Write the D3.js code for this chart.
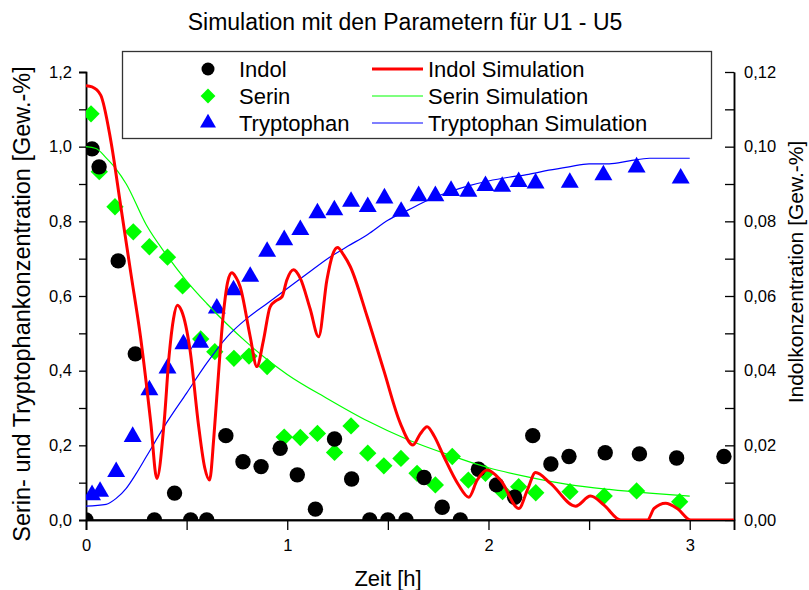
<!DOCTYPE html>
<html>
<head>
<meta charset="utf-8">
<script src="https://cdn.jsdelivr.net/npm/d3@7"></script>
<style>
  body { margin: 0; background: #fff; }
  text { font-family: "Liberation Sans", Arial, sans-serif; fill: #000; }
</style>
</head>
<body>
<script>
// measured points (Zeit [h], value)
var indolT = [0, 0.03, 0.065, 0.16, 0.245, 0.34, 0.44, 0.52, 0.60, 0.695, 0.78, 0.87, 0.965, 1.05, 1.14, 1.235, 1.32,
    1.41, 1.50, 1.59, 1.68, 1.77, 1.86, 1.95, 2.04, 2.13, 2.22, 2.31, 2.40, 2.58, 2.75, 2.935, 3.17];
var indolV = [0, 0.0994, 0.0946, 0.0694, 0.0445, 0, 0.0072, 0, 0, 0.0226, 0.0156, 0.0143, 0.0192, 0.0121, 0.0029, 0.0217, 0.011,
    0, 0, 0, 0.0114, 0.0034, 0, 0.0136, 0.0094, 0.0061, 0.0226, 0.015, 0.017, 0.018, 0.0177, 0.0166, 0.017];

var serinT = [0.025, 0.066, 0.144, 0.235, 0.315, 0.405, 0.48, 0.57, 0.64, 0.735, 0.81, 0.90, 0.985, 1.065, 1.15, 1.235, 1.317,
    1.40, 1.48, 1.565, 1.645, 1.736, 1.82, 1.90, 1.985, 2.07, 2.15, 2.235, 2.405, 2.575, 2.736, 2.95];
var serinV = [1.088, 0.933, 0.839, 0.772, 0.732, 0.704, 0.627, 0.485, 0.451, 0.433, 0.439, 0.411, 0.222, 0.221, 0.232, 0.181, 0.252,
    0.179, 0.145, 0.165, 0.125, 0.094, 0.170, 0.107, 0.125, 0.076, 0.089, 0.073, 0.076, 0.064, 0.078, 0.049];

var trpT = [0.03, 0.07, 0.15, 0.232, 0.315, 0.405, 0.484, 0.567, 0.65, 0.733, 0.816, 0.90, 0.985, 1.065, 1.15, 1.234, 1.317,
    1.40, 1.483, 1.566, 1.653, 1.736, 1.814, 1.90, 1.985, 2.068, 2.15, 2.234, 2.404, 2.571, 2.736, 2.955];
var trpV = [0.067, 0.076, 0.129, 0.223, 0.348, 0.406, 0.471, 0.475, 0.567, 0.616, 0.652, 0.719, 0.750, 0.777, 0.822, 0.830, 0.853,
    0.839, 0.862, 0.826, 0.868, 0.868, 0.882, 0.880, 0.895, 0.893, 0.906, 0.902, 0.904, 0.924, 0.945, 0.915];

// simulations
var indolSimT = [0, 0.03, 0.073, 0.122, 0.172, 0.222, 0.272, 0.322, 0.352, 0.388, 0.413, 0.435, 0.454, 0.475, 0.496, 0.517,
    0.56, 0.59, 0.614, 0.635, 0.65, 0.683, 0.705, 0.725, 0.745, 0.766, 0.816, 0.849, 0.882, 0.915, 0.949, 0.974, 0.998,
    1.031, 1.065, 1.114, 1.156, 1.197, 1.225, 1.25, 1.28, 1.313, 1.397, 1.479, 1.562, 1.625, 1.66, 1.695, 1.73, 1.778,
    1.85, 1.902, 1.944, 1.993, 2.06, 2.151, 2.193, 2.234, 2.308, 2.433, 2.507, 2.574, 2.657, 2.79, 2.823, 2.88, 2.94,
    3.005, 3.22];
var indolSimV = [0.1163, 0.116, 0.1138, 0.102, 0.0843, 0.0664, 0.0486, 0.026, 0.0111, 0.026, 0.044, 0.054, 0.0575, 0.056, 0.052, 0.0455,
    0.025, 0.014, 0.0107, 0.022, 0.033, 0.0554, 0.064, 0.0662, 0.065, 0.0625, 0.0491, 0.0411, 0.0482, 0.0571, 0.0589, 0.0598, 0.0643,
    0.067, 0.0647, 0.0565, 0.0491, 0.0643, 0.071, 0.073, 0.071, 0.0679, 0.0545, 0.0402, 0.0259, 0.0201, 0.023, 0.025, 0.0225, 0.017,
    0.0095, 0.0061, 0.0107, 0.0134, 0.0107, 0.0031, 0.008, 0.0127, 0.0098, 0.0037, 0.0064, 0.004, 0, 0, 0.0031, 0.0045, 0.003,
    0, 0];

var serinSimT = [0, 0.05, 0.1, 0.15, 0.2, 0.3, 0.4, 0.5, 0.6, 0.7, 0.8, 0.9, 1.0, 1.2, 1.4, 1.6, 1.8, 2.0, 2.2, 2.4, 2.6, 2.8, 3.0];
var serinSimV = [1.0, 0.995, 0.97, 0.94, 0.90, 0.79, 0.71, 0.64, 0.58, 0.525, 0.475, 0.43, 0.39, 0.325, 0.265, 0.215, 0.175, 0.14,
    0.115, 0.095, 0.082, 0.072, 0.064];

var trpSimT = [0, 0.1, 0.15, 0.2, 0.25, 0.3, 0.4, 0.5, 0.6, 0.7, 0.8, 0.9, 1.0, 1.1, 1.2, 1.3, 1.4, 1.5, 1.6, 1.7, 1.8, 1.9, 2.0,
    2.1, 2.2, 2.3, 2.4, 2.5, 2.6, 2.7, 2.8, 3.0];
var trpSimV = [0.037, 0.042, 0.058, 0.085, 0.125, 0.17, 0.26, 0.34, 0.42, 0.49, 0.54, 0.58, 0.62, 0.66, 0.70, 0.733, 0.765, 0.803,
    0.83, 0.857, 0.878, 0.895, 0.908, 0.918, 0.926, 0.937, 0.946, 0.954, 0.954, 0.962, 0.969, 0.969];

var xTicks = [0, 1, 2, 3];
var xMinor = [0.5, 1.5, 2.5];
var leftTicks = [0, 0.2, 0.4, 0.6, 0.8, 1.0, 1.2];
var leftMinor = [0.1, 0.3, 0.5, 0.7, 0.9, 1.1];
var rightTicks = [0, 0.02, 0.04, 0.06, 0.08, 0.10, 0.12];
var rightMinor = [0.01, 0.03, 0.05, 0.07, 0.09, 0.11];

var W = 809, H = 590;
var L = 86, R = 734, T = 72, B = 520;

var svg = d3.select('body').append('svg').attr('width', W).attr('height', H);

var x = d3.scaleLinear().domain([0, 3.22]).range([L, R]);
var yL = d3.scaleLinear().domain([0, 1.2]).range([B, T]);
var yR = d3.scaleLinear().domain([0, 0.12]).range([B, T]);

function comma(f) { return function (d) { return d3.format(f)(d).replace('.', ','); }; }

svg.append('defs').append('clipPath').attr('id', 'plot')
    .append('rect').attr('x', L).attr('y', T).attr('width', R - L).attr('height', B - T);

// title
svg.append('text').attr('x', 405).attr('y', 30).attr('text-anchor', 'middle')
    .style('font-size', '23px').text('Simulation mit den Parametern für U1 - U5');

// axes
svg.append('g').attr('transform', 'translate(0,' + B + ')')
    .call(d3.axisBottom(x).tickValues(xTicks).tickSize(10).tickPadding(9).tickFormat(d3.format('d')));
svg.append('g').attr('transform', 'translate(0,' + B + ')')
    .call(d3.axisBottom(x).tickValues(xMinor).tickSize(10).tickFormat(''));
svg.append('g').attr('transform', 'translate(' + L + ',0)')
    .call(d3.axisLeft(yL).tickValues(leftTicks).tickSize(7).tickPadding(7).tickFormat(comma('.1f')));
svg.append('g').attr('transform', 'translate(' + L + ',0)')
    .call(d3.axisLeft(yL).tickValues(leftMinor).tickSize(7).tickFormat(''));
svg.append('g').attr('transform', 'translate(' + R + ',0)')
    .call(d3.axisRight(yR).tickValues(rightTicks).tickSizeInner(-9).tickSizeOuter(0).tickPadding(10).tickFormat(comma('.2f')));
svg.append('g').attr('transform', 'translate(' + R + ',0)')
    .call(d3.axisRight(yR).tickValues(rightMinor).tickSizeInner(-9).tickSizeOuter(0).tickFormat(''));

svg.selectAll('.domain').attr('stroke', '#000').attr('stroke-width', 1.5);
svg.selectAll('.tick line').attr('stroke', '#000').attr('stroke-width', 1.3);
svg.selectAll('.tick text').style('font-size', '16.5px').style('font-family', '"Liberation Sans", Arial, sans-serif');
// bottom axis line full width
svg.append('line').attr('x1', L).attr('x2', R).attr('y1', B).attr('y2', B).attr('stroke', '#000').attr('stroke-width', 1.5);

// axis titles
svg.append('text').attr('x', 388).attr('y', 586).attr('text-anchor', 'middle')
    .style('font-size', '22px').text('Zeit [h]');
svg.append('text').attr('transform', 'translate(30,' + 304 + ') rotate(-90)').attr('text-anchor', 'middle')
    .style('font-size', '23.5px').text('Serin- und Tryptophankonzentration [Gew.-%]');
svg.append('text').attr('transform', 'translate(803,' + 272 + ') rotate(-90)').attr('text-anchor', 'middle')
    .style('font-size', '21px').text('Indolkonzentration [Gew.-%]');

var plot = svg.append('g').attr('clip-path', 'url(#plot)');

function pairs(ts, vs) { return ts.map(function (t, i) { return [t, vs[i]]; }); }

var lineL = d3.line().x(function (d) { return x(d[0]); }).y(function (d) { return yL(d[1]); }).curve(d3.curveMonotoneX);
var lineR = d3.line().x(function (d) { return x(d[0]); }).y(function (d) { return yR(d[1]); }).curve(d3.curveMonotoneX);

var diamond = d3.symbol().type(d3.symbolSquare).size(150);
var tri = d3.symbol().type(d3.symbolTriangle).size(140);

// serin points
plot.selectAll('.ser').data(pairs(serinT, serinV)).enter().append('path')
    .attr('d', diamond).attr('fill', '#00ff00')
    .attr('transform', function (d) { return 'translate(' + x(d[0]) + ',' + yL(d[1]) + ') rotate(45)'; });
// tryptophan points
plot.selectAll('.trp').data(pairs(trpT, trpV)).enter().append('path')
    .attr('d', tri).attr('fill', '#0000ff')
    .attr('transform', function (d) { return 'translate(' + x(d[0]) + ',' + yL(d[1]) + ')'; });
// indol points
plot.selectAll('.ind').data(pairs(indolT, indolV)).enter().append('circle')
    .attr('cx', function (d) { return x(d[0]); }).attr('cy', function (d) { return yR(d[1]); })
    .attr('r', 7.7).attr('fill', '#000');

// simulations
plot.append('path').datum(pairs(serinSimT, serinSimV)).attr('d', lineL)
    .attr('fill', 'none').attr('stroke', '#00ff00').attr('stroke-width', 1.2);
plot.append('path').datum(pairs(trpSimT, trpSimV)).attr('d', lineL)
    .attr('fill', 'none').attr('stroke', '#0000ff').attr('stroke-width', 1.2);
plot.append('path').datum(pairs(indolSimT, indolSimV)).attr('d', lineR)
    .attr('fill', 'none').attr('stroke', '#ff0000').attr('stroke-width', 3);

// legend
var lg = svg.append('g');
lg.append('rect').attr('x', 122.5).attr('y', 51.5).attr('width', 589).attr('height', 87)
    .attr('fill', '#fff').attr('stroke', '#333').attr('stroke-width', 1.3);
var rows = [69, 96, 123];
var legendNames = ['Indol', 'Serin', 'Tryptophan'];
var simNames = ['Indol Simulation', 'Serin Simulation', 'Tryptophan Simulation'];
var simColors = ['#ff0000', '#00ff00', '#0000ff'];
var simWidths = [3, 1.2, 1.2];
lg.append('circle').attr('cx', 208).attr('cy', rows[0]).attr('r', 6.5).attr('fill', '#000');
lg.append('path').attr('d', d3.symbol().type(d3.symbolSquare).size(110)).attr('fill', '#00ff00')
    .attr('transform', 'translate(208,' + rows[1] + ') rotate(45)');
lg.append('path').attr('d', d3.symbol().type(d3.symbolTriangle).size(110)).attr('fill', '#0000ff')
    .attr('transform', 'translate(208,' + rows[2] + ')');
legendNames.forEach(function (n, i) {
    lg.append('text').attr('x', 239).attr('y', rows[i] + 8).style('font-size', '22px').text(n);
    lg.append('line').attr('x1', 372).attr('x2', 423).attr('y1', rows[i]).attr('y2', rows[i])
        .attr('stroke', simColors[i]).attr('stroke-width', simWidths[i]);
    lg.append('text').attr('x', 428).attr('y', rows[i] + 8).style('font-size', '22px').text(simNames[i]);
});
</script>
</body>
</html>
